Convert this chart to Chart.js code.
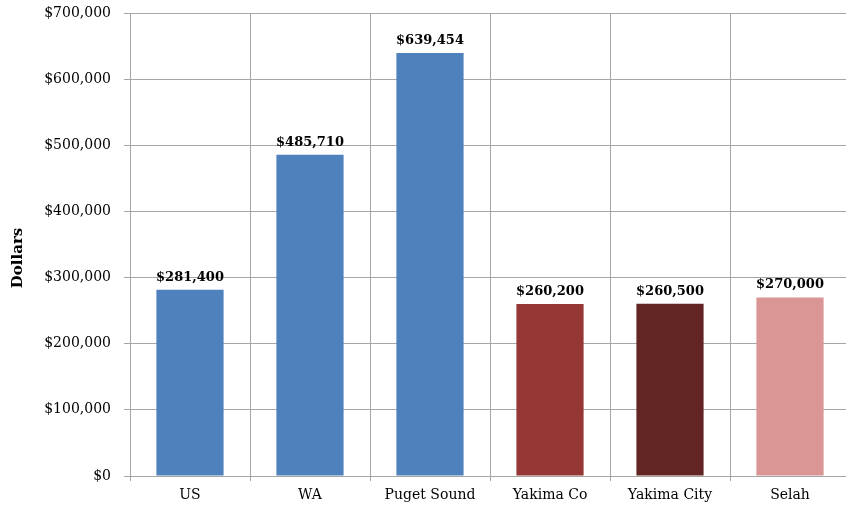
<!DOCTYPE html>
<html>
<head>
<meta charset="utf-8">
<script src="https://cdn.jsdelivr.net/npm/chart.js@4/dist/chart.umd.min.js"></script>
<style>
  html, body { margin: 0; padding: 0; background: #fff; overflow: hidden; }
  #wrap { width: 846px; height: 506px; overflow: hidden; }
  #c { display: block; }
</style>
</head>
<body>
<div id="wrap"><canvas id="c" width="852" height="506"></canvas></div>
<script>
// median home values by area
const areas = ['US', 'WA', 'Puget Sound', 'Yakima Co', 'Yakima City', 'Selah'];
const medianValues = [281400, 485710, 639454, 260200, 260500, 270000];
const barColors = ['#4F81BD', '#4F81BD', '#4F81BD', '#953735', '#632523', '#D99694'];
const yMax = 700000;
const yStep = 100000;

const FONT = "'DejaVu Serif', 'Liberation Serif', serif";
const GRID = '#a6a6a6';

function money(v){
	return '$' + v.toLocaleString('en-US');
}

// value labels above each bar
const valueLabels = {
	id: 'valueLabels',
	afterDatasetsDraw(chart){
		const ctx = chart.ctx;
		const meta = chart.getDatasetMeta(0);
		ctx.save();
		ctx.font = 'bold 13px ' + FONT;
		ctx.fillStyle = '#000';
		ctx.textAlign = 'center';
		ctx.textBaseline = 'bottom';
		meta.data.forEach((bar, i) => {
			ctx.fillText(money(medianValues[i]), bar.x, bar.y - 6);
		});
		ctx.restore();
	}
};

// rotated axis title
const axisTitle = {
	id: 'axisTitle',
	afterDraw(chart){
		const ctx = chart.ctx;
		ctx.save();
		ctx.translate(18, 258);
		ctx.rotate(-Math.PI / 2);
		ctx.font = 'bold 15px ' + FONT;
		ctx.fillStyle = '#000';
		ctx.textAlign = 'center';
		ctx.textBaseline = 'middle';
		ctx.fillText('Dollars', 0, 0);
		ctx.restore();
	}
};

new Chart(document.getElementById('c'), {
	type: 'bar',
	data: {
		labels: areas,
		datasets: [{
			data: medianValues,
			backgroundColor: barColors,
			borderWidth: 0,
			barPercentage: 0.56,
			categoryPercentage: 1
		}]
	},
	options: {
		responsive: false,
		animation: false,
		layout: { padding: { top: 13, right: 2, left: 0, bottom: 0 } },
		plugins: {
			legend: { display: false },
			tooltip: { enabled: false }
		},
		scales: {
			x: {
				grid: {
					// no closing line on the right side of the plot
					color: (c) => c.index === areas.length ? 'rgba(0,0,0,0)' : GRID,
					lineWidth: 1,
					tickLength: 5,
					offset: true
				},
				border: { color: GRID },
				ticks: { color: '#000', font: { family: FONT, size: 14 }, padding: 6, maxRotation: 0 },
				afterFit(scale){
					scale.height = 30;
					scale.paddingLeft = 0;
					scale.paddingRight = 0;
				}
			},
			y: {
				min: 0,
				max: yMax,
				grid: { color: GRID, lineWidth: 1, tickLength: 6 },
				border: { color: GRID },
				ticks: {
					stepSize: yStep,
					color: '#000',
					font: { family: FONT, size: 14 },
					padding: 13,
					callback: (v) => money(v)
				},
				afterFit(scale){
					scale.width = 130;
					scale.paddingTop = 0;
					scale.paddingBottom = 0;
				}
			}
		}
	},
	plugins: [valueLabels, axisTitle]
});
</script>
</body>
</html>
